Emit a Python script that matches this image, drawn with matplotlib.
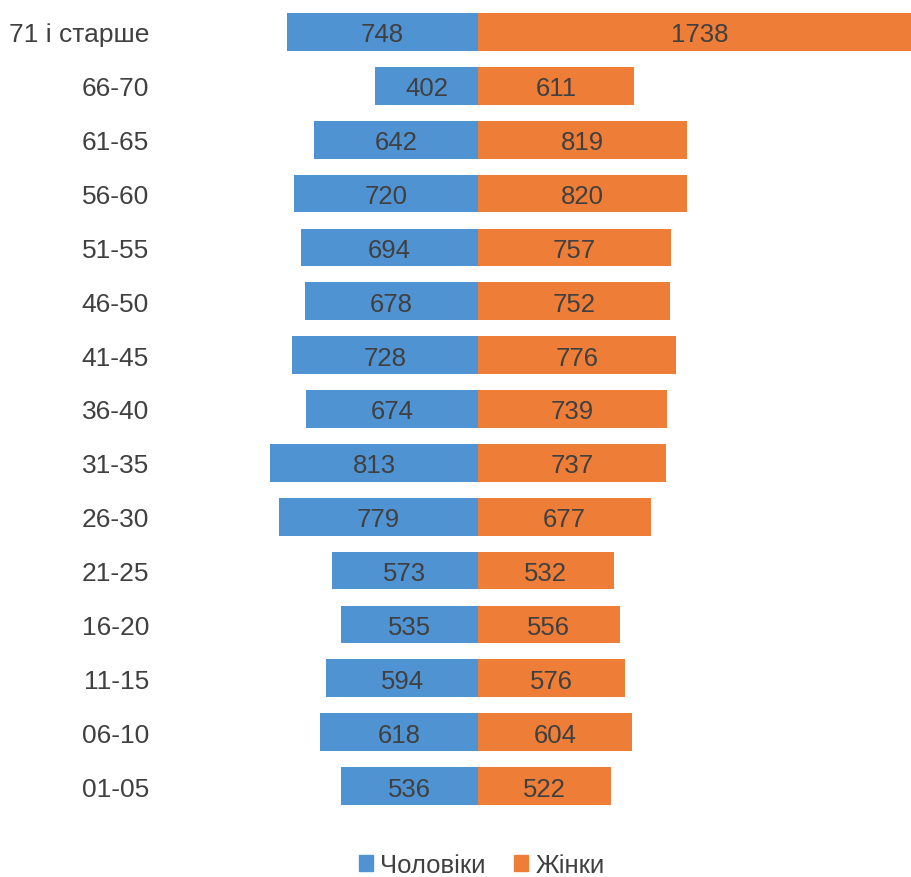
import matplotlib.pyplot as plt
from matplotlib.patches import Patch

ages = ['01-05', '06-10', '11-15', '16-20', '21-25', '26-30', '31-35', '36-40',
        '41-45', '46-50', '51-55', '56-60', '61-65', '66-70', '71 і старше']
men = [536, 618, 594, 535, 573, 779, 813, 674, 728, 678, 694, 720, 642, 402, 748]
women = [522, 604, 576, 556, 532, 677, 737, 739, 776, 752, 757, 820, 819, 611, 1738]

blue = '#4F93D2'
orange = '#EE7D38'
txt = '#404040'

plt.rcParams['font.family'] = ['Liberation Sans', 'DejaVu Sans']

fig = plt.figure(figsize=(9.11, 8.78), dpi=100)
ax = fig.add_axes([160 / 911, 1 - 814 / 878, 1 - 160 / 911, (814 - 6) / 878])

y = list(range(len(ages)))
ax.barh(y, [-m for m in men], height=0.7, color=blue)
ax.barh(y, women, height=0.7, color=orange)

for i in y:
    ax.text(-men[i] / 2, i, str(men[i]), ha='center', va='center_baseline', fontsize=18.5, color=txt)
    ax.text(women[i] / 2, i, str(women[i]), ha='center', va='center_baseline', fontsize=18.5, color=txt)

ax.set_xlim(-1245, 1696)
ax.set_ylim(-0.5, len(ages) - 0.5)
ax.set_yticks(y)
ax.set_yticklabels(ages, fontsize=19, color=txt, va='center_baseline')
ax.tick_params(axis='y', length=0, pad=8)
ax.set_xticks([])
for s in ax.spines.values():
    s.set_visible(False)

handles = [Patch(color=blue, label='Чоловіки'), Patch(color=orange, label='Жінки')]
leg = fig.legend(handles=handles, loc='center', bbox_to_anchor=(482 / 911, 1 - 866 / 878),
                 ncol=2, frameon=False, fontsize=18.5, handlelength=0.55, handleheight=0.55,
                 handletextpad=0.3, columnspacing=1.1)
for t in leg.get_texts():
    t.set_color(txt)

fig.savefig('out.png', dpi=100)
